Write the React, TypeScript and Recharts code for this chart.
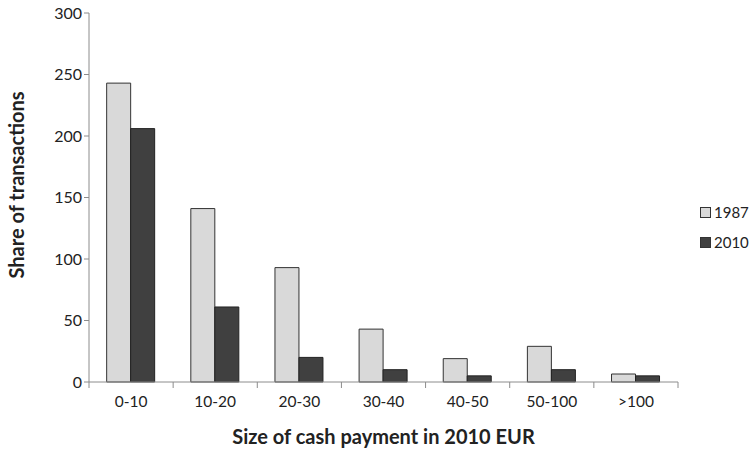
import React from "react";
import { BarChart, Bar, XAxis, YAxis, Legend } from "recharts";

// size buckets (2010 EUR)
const categories = ["0-10", "10-20", "20-30", "30-40", "40-50", "50-100", ">100"];
const share1987 = [243, 141, 93, 43, 19, 29, 6.5];
const share2010 = [206, 61, 20, 10, 5, 10, 5];
const yTicks = [0, 50, 100, 150, 200, 250, 300];

const data = categories.map((label, i) => ({
  label,
  y1987: share1987[i],
  y2010: share2010[i],
}));

const W = 752;
const H = 457;
const M = { top: 13, right: 74, bottom: 45, left: 39 };
const Y_AXIS_W = 50;
const PLOT_W = W - M.left - M.right - Y_AXIS_W;
const BAND = PLOT_W / categories.length;
const FONT = "Lato, 'Open Sans', sans-serif";
const AXIS = "#8c8c8c";

const XTick = (props: any) => {
  const { x, y, payload, index } = props;
  const top = y - 8; // axis line position
  return (
    <g>
      <line x1={x - BAND / 2} x2={x - BAND / 2} y1={top} y2={top + 6} stroke={AXIS} />
      {index === categories.length - 1 && (
        <line x1={x + BAND / 2} x2={x + BAND / 2} y1={top} y2={top + 6} stroke={AXIS} />
      )}
      <text x={x} y={y + 17} textAnchor="middle" fontSize={15.5} fill="#222" fontFamily={FONT}>
        {payload.value}
      </text>
    </g>
  );
};

const LegendBox = () => (
  <div style={{ fontFamily: FONT, fontSize: 15, color: "#222" }}>
    {[
      { name: "1987", fill: "#d9d9d9" },
      { name: "2010", fill: "#404040" },
    ].map((s) => (
      <div key={s.name} style={{ display: "flex", alignItems: "center", height: 30 }}>
        <div
          style={{
            width: 9,
            height: 9,
            background: s.fill,
            border: "1px solid #333",
            marginRight: 3,
          }}
        />
        {s.name}
      </div>
    ))}
  </div>
);

export default function App() {
  return (
    <div style={{ position: "absolute", left: 0, top: 0, width: W, height: H, background: "#fff" }}>
      <BarChart width={W} height={H} data={data} margin={M} barGap={0} barCategoryGap="21%">
        <XAxis
          dataKey="label"
          stroke={AXIS}
          tickLine={false}
          tick={<XTick />}
          height={30}
          label={{
            value: "Size of cash payment in 2010 EUR",
            position: "insideBottom",
            offset: -32,
            fontSize: 20,
            fontWeight: "bold",
            fill: "#222",
            fontFamily: FONT,
          }}
        />
        <YAxis
          width={Y_AXIS_W}
          domain={[0, 300]}
          ticks={yTicks}
          stroke={AXIS}
          tickSize={5}
          tick={{ fontSize: 16, fill: "#222", fontFamily: FONT }}
          label={{
            value: "Share of transactions",
            angle: -90,
            position: "insideLeft",
            offset: -22,
            dy: 81,
            fontSize: 20,
            fontWeight: "bold",
            fill: "#222",
            fontFamily: FONT,
          }}
        />
        <Legend
          layout="horizontal"
          verticalAlign="middle"
          align="center"
          content={<LegendBox />}
          wrapperStyle={{ left: 700, top: 197, width: 60 }}
        />
        <Bar dataKey="y1987" name="1987" fill="#d9d9d9" stroke="#333" strokeWidth={1} isAnimationActive={false} />
        <Bar dataKey="y2010" name="2010" fill="#404040" stroke="#222" strokeWidth={1} isAnimationActive={false} />
      </BarChart>
    </div>
  );
}
